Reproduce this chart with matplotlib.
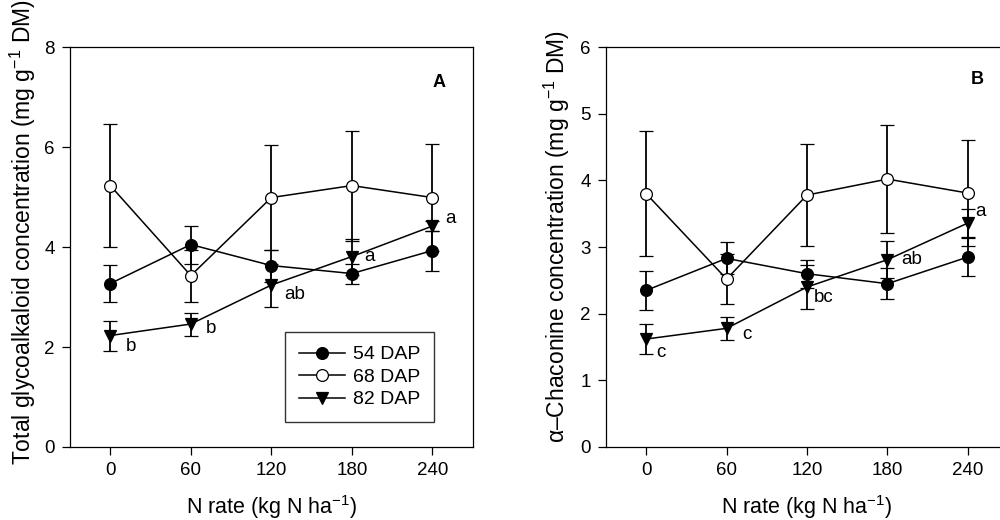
import matplotlib
matplotlib.use('Agg')
import matplotlib.pyplot as plt
from matplotlib.lines import Line2D

plt.rcParams['font.family'] = ['Liberation Sans', 'DejaVu Sans']
plt.rcParams['mathtext.fontset'] = 'custom'
plt.rcParams['mathtext.rm'] = 'Liberation Sans'
plt.rcParams['mathtext.it'] = 'Liberation Sans:italic'

# ========== data ==========
n_rate = [0, 60, 120, 180, 240]
series_names = ['54 DAP', '68 DAP', '82 DAP']

# panel A: total glycoalkaloids
tga_54 = [3.27, 4.05, 3.63, 3.47, 3.93]
tga_54_err = [0.37, 0.38, 0.32, 0.20, 0.40]
tga_68 = [5.23, 3.43, 4.99, 5.23, 4.99]
tga_68_err = [1.23, 0.52, 1.05, 1.10, 1.07]
tga_82 = [2.23, 2.46, 3.24, 3.81, 4.42]
tga_82_err = [0.30, 0.23, 0.43, 0.36, 0.10]
tga_letters = ['b', 'b', 'ab', 'a', 'a']

# panel B: alpha-chaconine
cha_54 = [2.35, 2.83, 2.60, 2.45, 2.85]
cha_54_err = [0.29, 0.24, 0.21, 0.23, 0.29]
cha_68 = [3.80, 2.52, 3.78, 4.02, 3.81]
cha_68_err = [0.94, 0.38, 0.77, 0.81, 0.79]
cha_82 = [1.62, 1.78, 2.40, 2.81, 3.36]
cha_82_err = [0.22, 0.17, 0.33, 0.28, 0.21]
cha_letters = ['c', 'c', 'bc', 'ab', 'a']

STYLES = [dict(marker='o', mfc='black'),
          dict(marker='o', mfc='white'),
          dict(marker='v', mfc='black')]


# ========== plot ==========
def draw_panel(ax, means, errs, letters, letter_offsets, ymax, ystep, panel, panel_pos):
    for y, e, st, name in zip(means, errs, STYLES, series_names):
        ax.errorbar(n_rate, y, yerr=e, color='black', lw=1.1, ms=8.5,
                    mec='black', mew=0.9, capsize=5, capthick=1.8,
                    elinewidth=1.3, label=name, zorder=3, **st)
    for x, y, lab, off in zip(n_rate, means[2], letters, letter_offsets):
        ax.annotate(lab, (x, y), xytext=off, textcoords='offset pixels',
                    ha='center', va='center', fontsize=13.5)
    ax.text(panel_pos[0], panel_pos[1], panel, fontsize=13,
            fontweight='bold', ha='center', va='center')
    ax.set_xlim(-30, 270)
    ax.set_ylim(0, ymax)
    ax.set_xticks(n_rate)
    ax.set_yticks(range(0, ymax + 1, ystep))
    ax.tick_params(labelsize=13.5, length=6, width=0.9, direction='out', pad=5)
    ax.set_xlabel('N rate (kg N ha$^{-1}$)', fontsize=15.5)
    ax.xaxis.set_label_coords(0.5, -0.115)
    for s in ax.spines.values():
        s.set_linewidth(0.9)


fig = plt.figure(figsize=(10, 5.2), dpi=100)
ax_a = fig.add_axes([0.070, 0.1404, 0.4027, 0.769])
ax_b = fig.add_axes([0.606, 0.1404, 0.402, 0.769])

draw_panel(ax_a, [tga_54, tga_68, tga_82], [tga_54_err, tga_68_err, tga_82_err],
           tga_letters, [(21, -11), (20, -4), (23, -9), (18, 0), (18, 8)],
           8, 2, 'A', (245, 7.3))
draw_panel(ax_b, [cha_54, cha_68, cha_82], [cha_54_err, cha_68_err, cha_82_err],
           cha_letters, [(15, -13), (20, -6), (17, -10), (24, 0), (13, 12)],
           6, 1, 'B', (247, 5.52))

# y labels placed from their lower end, as in the original layout
fig.text(0.023, (520 - 465) / 520, 'Total glycoalkaloid concentration (mg g$^{-1}$ DM)',
         rotation=90, ha='center', va='bottom', fontsize=16.5)
fig.text(0.557, (520 - 443) / 520, 'α–Chaconine concentration (mg g$^{-1}$ DM)',
         rotation=90, ha='center', va='bottom', fontsize=16.5)

handles = [Line2D([], [], color='black', lw=1.1, ms=8.5, mec='black', mew=0.9, **st)
           for st in STYLES]
leg = ax_a.legend(handles, series_names, loc='lower left', bbox_to_anchor=(0.534, 0.0625),
                  fontsize=14, frameon=True, fancybox=False, edgecolor='black',
                  handlelength=2.4, borderpad=0.7, labelspacing=0.25,
                  handletextpad=0.4, borderaxespad=0)
leg.get_frame().set_linewidth(1.0)

fig.savefig('out.png', dpi=100)
